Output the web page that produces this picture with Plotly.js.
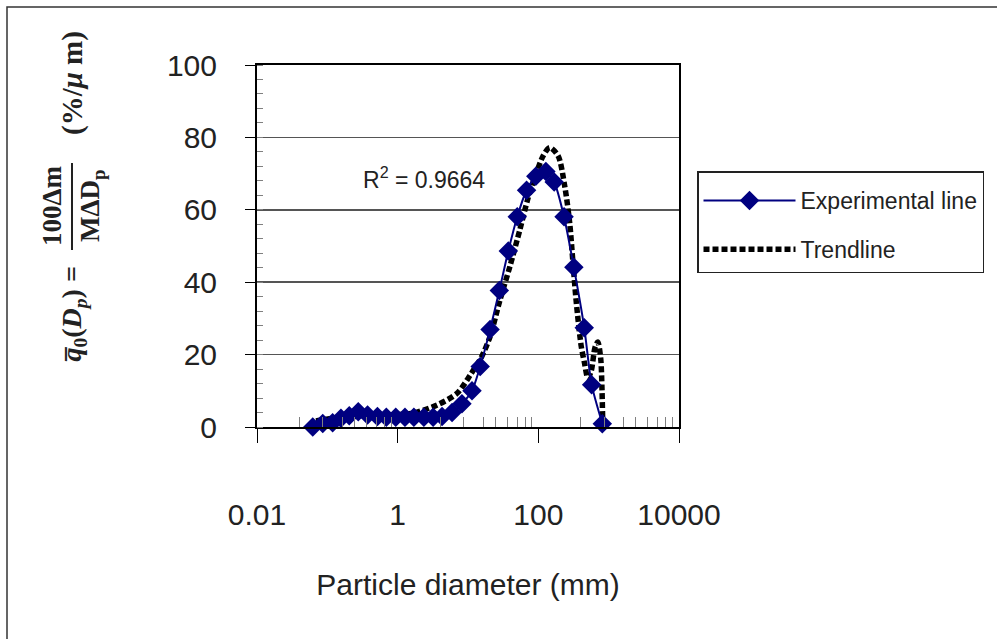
<!DOCTYPE html>
<html>
<head>
<meta charset="utf-8">
<script src="https://cdn.plot.ly/plotly-3.0.1.min.js"></script>
<style>html,body{margin:0;padding:0;background:#fff;}#chart{width:997px;height:639px;}</style>
</head>
<body>
<div id="chart"></div>
<script>
// Experimental data (particle diameter vs. frequency)
const expDiameter = [0.062, 0.086, 0.119, 0.156, 0.205, 0.275, 0.373, 0.516, 0.69, 0.94, 1.27, 1.70, 2.36, 3.19, 4.28, 5.93, 8.2, 11.4, 14.9, 20.6, 27.9, 37.4, 50.2, 68, 92, 128, 168, 232, 320, 450, 572, 812];
const expFreq = [0, 1.0, 1.2, 2.4, 3.1, 4.2, 3.3, 2.9, 2.7, 2.7, 2.7, 2.7, 2.7, 2.7, 2.9, 4.0, 6.4, 10.0, 16.7, 26.9, 37.7, 48.6, 58.1, 65.4, 69.3, 70.6, 67.7, 58.1, 44.1, 27.4, 11.7, 0.9];

// Trendline
const trendDiameter = [0.069, 0.195, 0.56, 1.61, 3.64, 6.98, 10.8, 15.7, 20.6, 28.6, 39.5, 54.8, 71.8, 94.4, 117, 145, 191, 237, 279, 311, 347, 408, 454, 506, 565, 640, 700, 770, 805, 824];
const trendFreq = [1.7, 3.0, 3.3, 3.8, 6.1, 9.3, 14.4, 19.5, 25, 35.2, 44.4, 54.6, 63.4, 70.3, 74.9, 77.2, 74.9, 66.6, 56.4, 45.3, 34.3, 22.2, 17.6, 13.5, 15.5, 22, 23.5, 19, 10, 0.5];

// Axis ticks
const xTickVals = [0.01, 1, 100, 10000];
const xTickText = ["0.01", "1", "100", "10000"];
const minorMultipliers = [4, 8.6, 16.4, 24.3, 36, 50, 65, 81];
const seriesNames = ["Experimental line", "Trendline"];
const r2Text = "R<sup>2</sup> = 0.9664";

const minorVals = [];
[0.01, 1, 100].forEach(b => minorMultipliers.forEach(m => minorVals.push(b * m)));

// plot area in pixels
const L = 257, R = 679, T = 65, B = 427;
const px = x => (x - L) / (R - L);
const py = y => (B - y) / (B - T);

const traces = [
  {
    x: trendDiameter, y: trendFreq, name: seriesNames[1], type: 'scatter', mode: 'lines',
    line: {color: '#000', width: 5.5, dash: '6px,3px', shape: 'spline', smoothing: 0.8},
    cliponaxis: false, legendgroup: 'b', legendrank: 2
  },
  {
    x: expDiameter, y: expFreq, name: seriesNames[0], type: 'scatter', mode: 'lines+markers',
    line: {color: '#000080', width: 2, shape: 'spline', smoothing: 0.6},
    marker: {symbol: 'diamond', size: 15, color: '#000080'},
    cliponaxis: false, legendgroup: 'a', legendrank: 1
  }
];

const serif = 'Liberation Serif, Times New Roman, serif';
const layout = {
  width: 997, height: 639,
  margin: {l: L, r: 997 - R, t: T, b: 639 - B},
  paper_bgcolor: '#fff', plot_bgcolor: '#fff',
  font: {family: 'Liberation Sans, Arial, sans-serif', color: '#222'},
  showlegend: true,
  legend: {
    x: px(697), y: py(171), xanchor: 'left', yanchor: 'top',
    bordercolor: '#222', borderwidth: 1.5, bgcolor: '#fff',
    font: {size: 23, color: '#222'}, itemwidth: 92,
    traceorder: 'grouped', tracegroupgap: 16,
    title: {text: ' ', font: {size: 5}}
  },
  xaxis: {
    type: 'log', range: [-2, 4], autorange: false,
    tickmode: 'array', tickvals: xTickVals, ticktext: xTickText,
    ticks: 'outside', ticklen: 14, tickwidth: 1, tickcolor: '#000',
    showline: true, linewidth: 2, linecolor: '#000', mirror: true,
    showgrid: false, zeroline: false,
    tickfont: {size: 30, color: '#222'},
    ticklabelstandoff: 46,
    minor: {tickmode: 'array', tickvals: minorVals, ticks: 'inside', ticklen: 10, tickwidth: 1, tickcolor: '#808080', showgrid: false},
    title: {text: 'Particle diameter (mm)', font: {size: 30, color: '#222'}, standoff: 44},
    automargin: false
  },
  yaxis: {
    range: [0, 100], autorange: false, dtick: 20, tick0: 0,
    ticks: 'outside', ticklen: 10, tickwidth: 1, tickcolor: '#000',
    showline: true, linewidth: 2, linecolor: '#000', mirror: true,
    showgrid: true, gridcolor: '#555', gridwidth: 1.5, zeroline: false,
    tickfont: {size: 30, color: '#222'},
    ticklabelstandoff: 22,
    minor: {dtick: 4, ticks: 'inside', ticklen: 6, tickwidth: 1, tickcolor: '#808080', showgrid: false},
    automargin: false
  },
  shapes: [
    {type: 'rect', xref: 'paper', yref: 'paper', x0: px(7), x1: px(1020), y0: py(660), y1: py(7),
     line: {color: '#333', width: 1.5}, fillcolor: 'rgba(0,0,0,0)', layer: 'below'},
    {type: 'line', xref: 'paper', yref: 'paper', x0: px(72), x1: px(72), y0: py(163), y1: py(250),
     line: {color: '#222', width: 2}}
  ],
  annotations: [
    {xref: 'paper', yref: 'paper', x: px(424), y: py(178), text: r2Text, showarrow: false,
     font: {size: 23, color: '#222'}, xanchor: 'center', yanchor: 'middle'},
    {xref: 'paper', yref: 'paper', x: px(72), y: py(83), text: '<b>(%/<i>μ</i> m)</b>', showarrow: false, textangle: -90,
     font: {size: 29, family: serif, color: '#222'}, xanchor: 'center', yanchor: 'middle'},
    {xref: 'paper', yref: 'paper', x: px(52), y: py(206), text: '<b>100Δm</b>', showarrow: false, textangle: -90,
     font: {size: 27, family: serif, color: '#222'}, xanchor: 'center', yanchor: 'middle'},
    {xref: 'paper', yref: 'paper', x: px(92), y: py(206), text: '<b>MΔD<sub>p</sub></b>', showarrow: false, textangle: -90,
     font: {size: 27, family: serif, color: '#222'}, xanchor: 'center', yanchor: 'middle'},
    {xref: 'paper', yref: 'paper', x: px(73), y: py(314), text: '<b><i>q\u0305</i><sub>0</sub>(<i>D</i><sub><i>p</i></sub>) =</b>', showarrow: false, textangle: -90,
     font: {size: 28, family: serif, color: '#222'}, xanchor: 'center', yanchor: 'middle'}
  ]
};

Plotly.newPlot('chart', traces, layout, {staticPlot: true, displayModeBar: false});
</script>
</body>
</html>
